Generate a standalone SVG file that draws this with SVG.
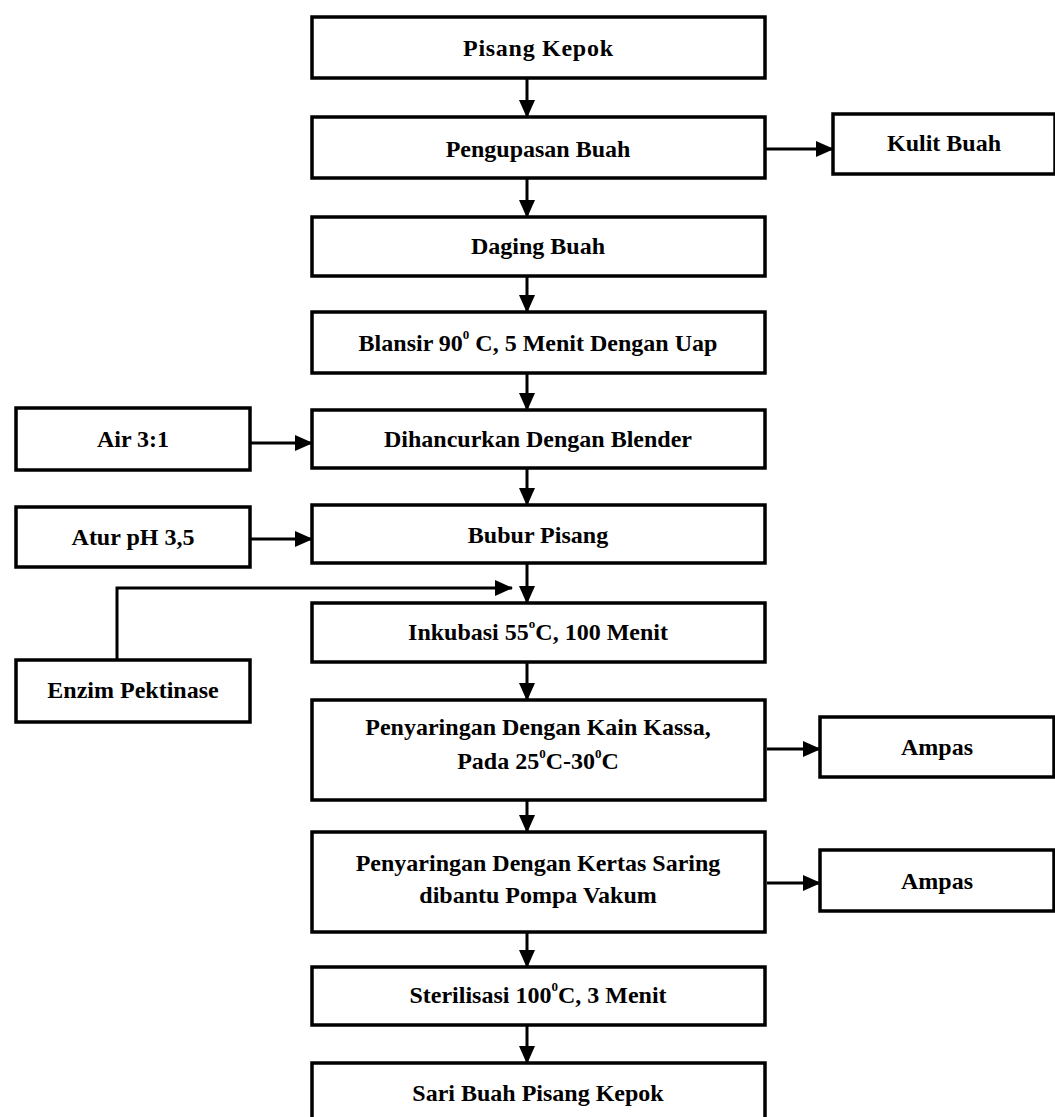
<svg xmlns="http://www.w3.org/2000/svg" width="1055" height="1117" viewBox="0 0 1055 1117">
<defs>
<marker id="ah" markerUnits="userSpaceOnUse" markerWidth="18" markerHeight="18" viewBox="0 0 18 18" refX="17" refY="9" orient="auto">
<path d="M0,1 L18,9 L0,17 Z" fill="#000"/>
</marker>
<style>
.box{fill:#fff;stroke:#000;stroke-width:3.5}
.t{font-family:"Liberation Serif","Times New Roman",serif;font-weight:bold;font-size:24px;fill:#000;text-anchor:middle;dominant-baseline:central}
.sup{font-size:13px}
.c{fill:none;stroke:#000;stroke-width:3}
</style>
</defs>
<rect width="1055" height="1117" fill="#fff"/>
<g id="n1"><rect class="box" x="312" y="17" width="453" height="61"/><text class="t" x="538" y="48" textLength="150">Pisang Kepok</text></g>
<g id="n2"><rect class="box" x="312" y="117" width="453" height="61"/><text class="t" x="538" y="149">Pengupasan Buah</text></g>
<g id="n3"><rect class="box" x="833" y="114" width="222" height="60"/><text class="t" x="944" y="143">Kulit Buah</text></g>
<g id="n4"><rect class="box" x="312" y="217" width="453" height="59"/><text class="t" x="538" y="246">Daging Buah</text></g>
<g id="n5"><rect class="box" x="312" y="312" width="453" height="61"/><text class="t" x="538" y="343">Blansir 90<tspan class="sup" dy="-9">0</tspan><tspan dy="9"> C, 5 Menit Dengan Uap</tspan></text></g>
<g id="n6"><rect class="box" x="312" y="410" width="453" height="58"/><text class="t" x="538" y="439">Dihancurkan Dengan Blender</text></g>
<g id="n7"><rect class="box" x="16" y="408" width="234" height="62"/><text class="t" x="133" y="439">Air 3:1</text></g>
<g id="n8"><rect class="box" x="312" y="505" width="453" height="58"/><text class="t" x="538" y="535">Bubur Pisang</text></g>
<g id="n9"><rect class="box" x="16" y="507" width="234" height="60"/><text class="t" x="133" y="537">Atur pH 3,5</text></g>
<g id="n10"><rect class="box" x="312" y="603" width="453" height="59"/><text class="t" x="538" y="632">Inkubasi 55<tspan class="sup" dy="-9">o</tspan><tspan dy="9">C, 100 Menit</tspan></text></g>
<g id="n11"><rect class="box" x="16" y="660" width="234" height="62"/><text class="t" x="133" y="690">Enzim Pektinase</text></g>
<g id="n12"><rect class="box" x="312" y="700" width="453" height="100"/><text class="t" x="538" y="727">Penyaringan Dengan Kain Kassa,</text><text class="t" x="538" y="761">Pada 25<tspan class="sup" dy="-8">0</tspan><tspan dy="8">C-30</tspan><tspan class="sup" dy="-8">0</tspan><tspan dy="8">C</tspan></text></g>
<g id="n13"><rect class="box" x="820" y="717" width="234" height="60"/><text class="t" x="937" y="747">Ampas</text></g>
<g id="n14"><rect class="box" x="312" y="832" width="453" height="100"/><text class="t" x="538" y="863">Penyaringan Dengan Kertas Saring</text><text class="t" x="538" y="895">dibantu Pompa Vakum</text></g>
<g id="n15"><rect class="box" x="820" y="850" width="234" height="61"/><text class="t" x="937" y="881">Ampas</text></g>
<g id="n16"><rect class="box" x="312" y="967" width="453" height="58"/><text class="t" x="538" y="995">Sterilisasi 100<tspan class="sup" dy="-9">0</tspan><tspan dy="9">C, 3 Menit</tspan></text></g>
<g id="n17"><rect class="box" x="312" y="1063" width="453" height="70"/><text class="t" x="538" y="1093">Sari Buah Pisang Kepok</text></g>
<g id="connectors">
<line class="c" x1="527" y1="78" x2="527" y2="117" marker-end="url(#ah)"/>
<line class="c" x1="765" y1="149" x2="833" y2="149" marker-end="url(#ah)"/>
<line class="c" x1="527" y1="178" x2="527" y2="217" marker-end="url(#ah)"/>
<line class="c" x1="527" y1="276" x2="527" y2="312" marker-end="url(#ah)"/>
<line class="c" x1="527" y1="373" x2="527" y2="410" marker-end="url(#ah)"/>
<line class="c" x1="250" y1="443" x2="312" y2="443" marker-end="url(#ah)"/>
<line class="c" x1="527" y1="468" x2="527" y2="505" marker-end="url(#ah)"/>
<line class="c" x1="250" y1="539" x2="312" y2="539" marker-end="url(#ah)"/>
<line class="c" x1="527" y1="563" x2="527" y2="603" marker-end="url(#ah)"/>
<polyline class="c" points="117,660 117,588 512,588" marker-end="url(#ah)"/>
<line class="c" x1="527" y1="662" x2="527" y2="700" marker-end="url(#ah)"/>
<line class="c" x1="767" y1="749" x2="820" y2="749" marker-end="url(#ah)"/>
<line class="c" x1="527" y1="800" x2="527" y2="832" marker-end="url(#ah)"/>
<line class="c" x1="767" y1="883" x2="820" y2="883" marker-end="url(#ah)"/>
<line class="c" x1="527" y1="932" x2="527" y2="967" marker-end="url(#ah)"/>
<line class="c" x1="527" y1="1025" x2="527" y2="1063" marker-end="url(#ah)"/>
</g>
</svg>
